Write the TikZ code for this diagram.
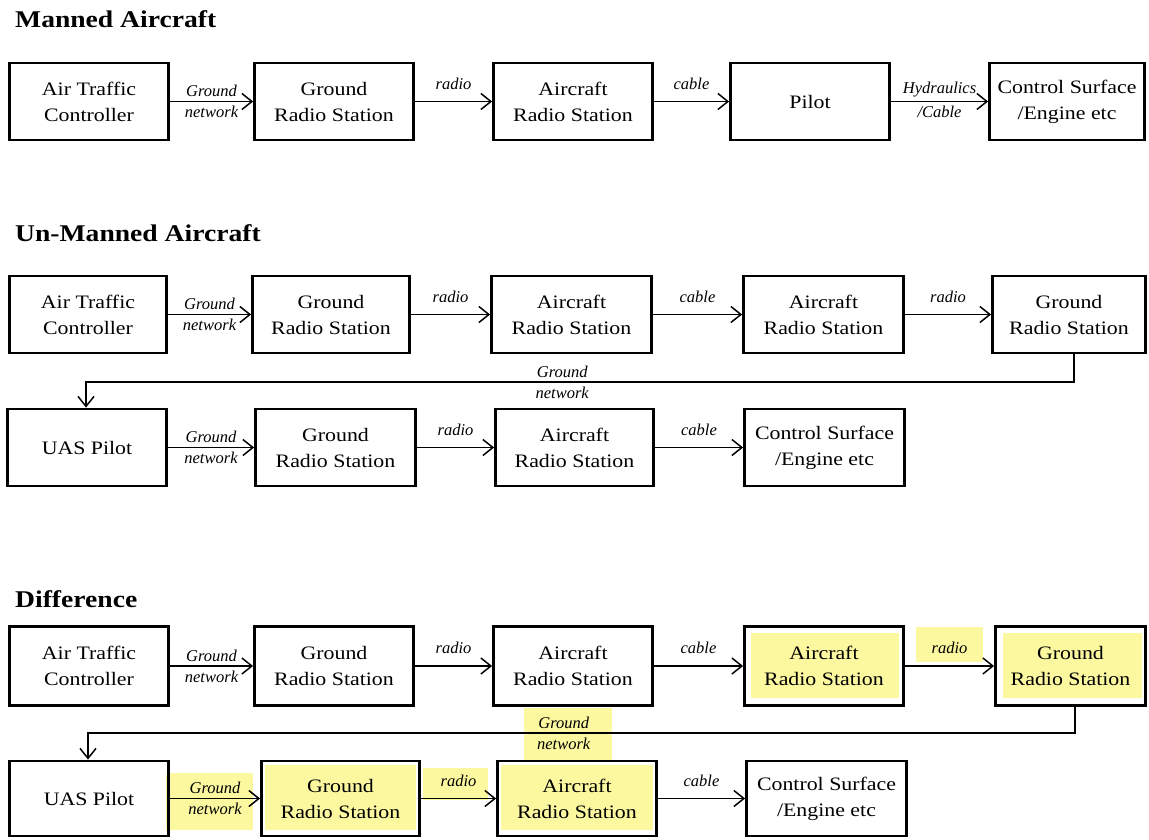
\documentclass[tikz,border=0pt]{standalone}
\usepackage{fontspec}
\setmainfont{Liberation Serif}
\newfontfamily\boxfont{Liberation Serif}[FakeStretch=1.15]
\newfontfamily\ttlfont{Liberation Serif}[FakeStretch=1.15]
\usetikzlibrary{arrows.meta,calc}
\definecolor{hlyellow}{RGB}{252,248,160}
\begin{document}
\begin{tikzpicture}[x=1pt,y=-1pt,
  box/.style={draw, line width=2.8pt, inner sep=0pt, align=center,
    font=\boxfont\fontsize{19}{26}\selectfont, minimum height=77pt},
  ttl/.style={anchor=base west, inner sep=0pt, font=\ttlfont\bfseries\fontsize{24}{27}\selectfont},
  lbl/.style={inner sep=0.5pt, font=\itshape\fontsize{16.5}{17}\selectfont},
  up/.style={lbl, above=3.5pt},
  dn/.style={lbl, below=3.5pt},
  upr/.style={lbl, above=11pt},
  arr/.style={line width=1.5pt, -{Straight Barb[length=10pt,width=16pt]}},
  hl/.style={fill=hlyellow}]
\useasboundingbox (0,0) rectangle (1149,839);

% highlights
\fill[hl] (751,633) rectangle (899,698);
\fill[hl] (916,627) rectangle (983,662);
\fill[hl] (1003,633) rectangle (1142,698);
\fill[hl] (524,708) rectangle (612,760);
\fill[hl] (166,773) rectangle (253,830);
\fill[hl] (265,765) rectangle (416,830);
\fill[hl] (423,768) rectangle (488,800);
\fill[hl] (501,765) rectangle (653,830);

% titles
\node[ttl] (t1) at (15,27) {Manned Aircraft};
\node[ttl] (t2) at (15,241) {Un-Manned Aircraft};
\node[ttl] (t3) at (15,607) {Difference};

% row 1
\node[box, minimum width=159pt] (m1) at (89,101.5) {Air Traffic\\Controller};
\node[box, minimum width=159pt] (m2) at (334,101.5) {Ground\\Radio Station};
\node[box, minimum width=159pt] (m3) at (573,101.5) {Aircraft\\Radio Station};
\node[box, minimum width=159pt] (m4) at (810,101.5) {Pilot};
\node[box, minimum width=155pt] (m5) at (1067,101.5) {Control Surface\\/Engine etc};
\draw[arr] (m1) -- node[up] (lm1a) {Ground} node[dn] (lm1b) {network} (m2);
\draw[arr] (m2) -- node[upr] (lm2) {radio} (m3);
\draw[arr] (m3) -- node[upr] (lm3) {cable} (m4);
\draw[arr] (m4) -- node[up] (lm4a) {Hydraulics} node[dn] (lm4b) {/Cable} (m5);

% row 2a
\node[box, minimum width=157pt] (u1) at (88,314.5) {Air Traffic\\Controller};
\node[box, minimum width=157pt] (u2) at (331,314.5) {Ground\\Radio Station};
\node[box, minimum width=160pt] (u3) at (571.5,314.5) {Aircraft\\Radio Station};
\node[box, minimum width=160pt] (u4) at (823.5,314.5) {Aircraft\\Radio Station};
\node[box, minimum width=153pt] (u5) at (1069,314.5) {Ground\\Radio Station};
\draw[arr] (u1) -- node[up] (lu1a) {Ground} node[dn] (lu1b) {network} (u2);
\draw[arr] (u2) -- node[upr] (lu2) {radio} (u3);
\draw[arr] (u3) -- node[upr] (lu3) {cable} (u4);
\draw[arr] (u4) -- node[upr] (lu4) {radio} (u5);

% row 2b
\node[box, minimum width=159pt] (v1) at (87,447.5) {UAS Pilot};
\node[box, minimum width=160pt] (v2) at (335.5,447.5) {Ground\\Radio Station};
\node[box, minimum width=158pt] (v3) at (574.5,447.5) {Aircraft\\Radio Station};
\node[box, minimum width=160pt] (v4) at (824.5,447.5) {Control Surface\\/Engine etc};
\draw[arr] (v1) -- node[up] (lv1a) {Ground} node[dn] (lv1b) {network} (v2);
\draw[arr] (v2) -- node[upr] (lv2) {radio} (v3);
\draw[arr] (v3) -- node[upr] (lv3) {cable} (v4);

\coordinate (fa) at (1074,382);
\coordinate (fb) at (86,382);
\draw[arr] (u5.south -| fa) -- (fa) -- node[up,pos=0.518] (lfa) {Ground} node[dn,pos=0.518] (lfb) {network} (fb) -- (v1.north -| fb);

% row 3a
\node[box, minimum width=159pt, minimum height=79pt] (d1) at (89,666) {Air Traffic\\Controller};
\node[box, minimum width=159pt, minimum height=79pt] (d2) at (334,666) {Ground\\Radio Station};
\node[box, minimum width=159pt, minimum height=79pt] (d3) at (573,666) {Aircraft\\Radio Station};
\node[box, minimum width=159pt, minimum height=79pt] (d4) at (824,666) {Aircraft\\Radio Station};
\node[box, minimum width=150pt, minimum height=79pt] (d5) at (1070.5,666) {Ground\\Radio Station};
\draw[arr] (d1) -- node[up] (ld1a) {Ground} node[dn] (ld1b) {network} (d2);
\draw[arr] (d2) -- node[upr] (ld2) {radio} (d3);
\draw[arr] (d3) -- node[upr] (ld3) {cable} (d4);
\draw[arr] (d4) -- node[upr] (ld4) {radio} (d5);

% row 3b
\node[box, minimum width=159pt, minimum height=75pt] (e1) at (89,798.5) {UAS Pilot};
\node[box, minimum width=158pt, minimum height=75pt] (e2) at (340.5,798.5) {Ground\\Radio Station};
\node[box, minimum width=159pt, minimum height=75pt] (e3) at (577,798.5) {Aircraft\\Radio Station};
\node[box, minimum width=160pt, minimum height=75pt] (e4) at (826.5,798.5) {Control Surface\\/Engine etc};
\draw[arr] (e1) -- node[up] (le1a) {Ground} node[dn] (le1b) {network} (e2);
\draw[arr] (e2) -- node[upr] (le2) {radio} (e3);
\draw[arr] (e3) -- node[upr] (le3) {cable} (e4);

\coordinate (ga) at (1075,733);
\coordinate (gb) at (88,733);
\draw[arr] (d5.south -| ga) -- (ga) -- node[up,pos=0.518] (lga) {Ground} node[dn,pos=0.518] (lgb) {network} (gb) -- (e1.north -| gb);
\end{tikzpicture}
\end{document}
